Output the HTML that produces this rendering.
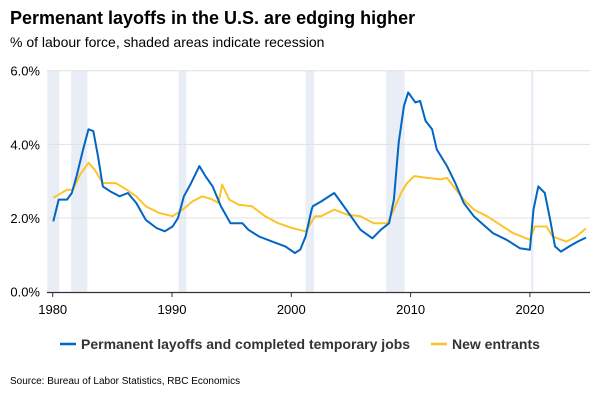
<!DOCTYPE html>
<html><head><meta charset="utf-8"><style>
body{margin:0;width:600px;height:400px;background:#fff;font-family:"Liberation Sans",Arial,sans-serif;overflow:hidden}
svg{position:absolute;left:0;top:0}
</style></head><body>
<svg width="600" height="400" xmlns="http://www.w3.org/2000/svg">
<text x="10" y="24" font-size="18" font-weight="bold" fill="#000">Permenant layoffs in the U.S. are edging higher</text>
<text x="10" y="47" font-size="14" fill="#000">% of labour force, shaded areas indicate recession</text>
<g id="rec"></g>
<g id="grid"></g>
<g id="yt"></g>
<g id="xt"></g>
<g id="lines"></g>
<g>
<line x1="60" y1="344" x2="76" y2="344" stroke="#0066c2" stroke-width="2.5"/>
<text x="81" y="349" font-size="14" font-weight="bold" fill="#333">Permanent layoffs and completed temporary jobs</text>
<line x1="431" y1="344" x2="447" y2="344" stroke="#fcc42c" stroke-width="2.5"/>
<text x="452" y="349" font-size="14" font-weight="bold" fill="#333">New entrants</text>
</g>
<text x="10" y="384" font-size="10" fill="#000">Source: Bureau of Labor Statistics, RBC Economics</text>
</svg>
<script>
const yTicks=[0,2,4,6];
const xTicks=[1980,1990,2000,2010,2020];
const recessions=[[1979.55,1980.55],[1981.55,1982.9],[1990.55,1991.2],[2001.2,2001.9],[2007.95,2009.5],[2020.1,2020.3]];
const layoffYears=[1980.05,1980.5,1981.2,1981.6,1982.0,1982.55,1983.0,1983.4,1983.8,1984.2,1984.8,1985.6,1986.3,1987.0,1987.8,1988.7,1989.4,1990.05,1990.5,1991.0,1991.6,1992.3,1992.8,1993.4,1994.1,1994.9,1995.9,1996.4,1997.3,1998.4,1999.5,2000.3,2000.75,2001.2,2001.7,2001.8,2002.5,2003.6,2004.2,2005.0,2005.8,2006.8,2007.5,2008.2,2008.6,2009.0,2009.45,2009.8,2010.4,2010.8,2011.25,2011.8,2012.2,2013.05,2013.75,2014.45,2015.3,2016.1,2016.9,2018.05,2019.15,2020.0,2020.3,2020.7,2021.25,2021.7,2022.1,2022.6,2023.3,2024.0,2024.7];
const layoffValues=[1.91,2.5,2.5,2.68,3.14,3.86,4.41,4.36,3.68,2.86,2.73,2.59,2.68,2.41,1.95,1.73,1.64,1.77,2.0,2.59,2.95,3.41,3.14,2.86,2.32,1.86,1.86,1.68,1.5,1.36,1.23,1.05,1.14,1.5,2.23,2.32,2.45,2.68,2.41,2.05,1.68,1.45,1.68,1.86,2.5,4.05,5.05,5.41,5.14,5.18,4.64,4.41,3.86,3.41,2.95,2.41,2.05,1.82,1.59,1.41,1.18,1.14,2.23,2.86,2.68,1.95,1.23,1.09,1.23,1.36,1.47];
const entrantYears=[1980.05,1981.2,1981.7,1982.3,1983.0,1983.5,1984.2,1985.3,1986.2,1987.0,1987.8,1988.9,1990.05,1990.9,1991.7,1992.55,1993.4,1993.9,1994.2,1994.8,1995.6,1996.7,1997.8,1998.9,2000.05,2001.2,2002.0,2002.5,2003.6,2004.7,2005.8,2006.9,2008.05,2008.6,2009.2,2009.7,2010.3,2011.4,2012.5,2013.05,2013.6,2014.45,2015.3,2016.4,2017.5,2018.6,2020.0,2020.4,2021.4,2021.9,2023.05,2023.9,2024.7];
const entrantValues=[2.55,2.77,2.77,3.18,3.5,3.32,2.95,2.95,2.77,2.59,2.32,2.14,2.05,2.23,2.45,2.59,2.5,2.41,2.91,2.5,2.36,2.32,2.05,1.86,1.73,1.64,2.05,2.05,2.23,2.09,2.05,1.86,1.86,2.23,2.68,2.95,3.14,3.09,3.05,3.09,2.86,2.5,2.23,2.05,1.82,1.59,1.41,1.77,1.77,1.5,1.36,1.5,1.72];
const NS="http://www.w3.org/2000/svg";
const x=yr=>52.7+(yr-1980)*11.93;
const y=v=>291.7-v*36.83;
function mk(tag,parent,attrs){const e=document.createElementNS(NS,tag);for(const k in attrs)e.setAttribute(k,attrs[k]);document.getElementById(parent).appendChild(e);return e;}
recessions.forEach(r=>{const e=mk('rect','rec',{x:x(r[0]),y:y(6),width:Math.max(x(r[1])-x(r[0]),2),height:y(0)-y(6),fill:'#e8edf6'});

});
yTicks.forEach(t=>{if(t>0){const g=mk('line','grid',{x1:47,x2:590,y1:y(t),y2:y(t),stroke:'#e0e0e0','stroke-width':1});

}
const l=mk('text','yt',{x:40,y:y(t)+5,'font-size':13,'text-anchor':'end',fill:'#000'});l.textContent=t.toFixed(1)+'%';

});
const ax=mk('line','xt',{x1:47,x2:590,y1:292.5,y2:292.5,stroke:'#333','stroke-width':1.2});


xTicks.forEach(t=>{const tk=mk('line','xt',{x1:x(t),x2:x(t),y1:292,y2:297,stroke:'#333'});


const l=mk('text','xt',{x:x(t),y:314,'font-size':13,'text-anchor':'middle',fill:'#000'});l.textContent=t;

});
function line(xs,vs,col,name){const d=xs.map((a,i)=>(i?'L':'M')+x(a).toFixed(1)+','+y(vs[i]).toFixed(1)).join('');
const p=mk('path','lines',{d:d,fill:'none',stroke:col,'stroke-width':2,'stroke-linejoin':'round'});

}
line(entrantYears,entrantValues,'#fcc42c','new-entrants-line');
line(layoffYears,layoffValues,'#0066c2','permanent-layoffs-line');
</script>
</body></html>
